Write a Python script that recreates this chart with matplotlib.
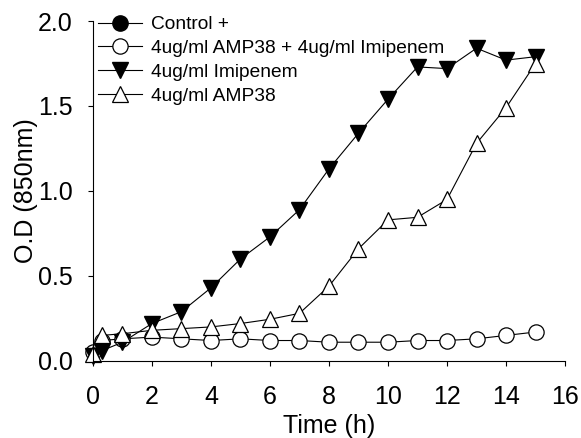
import matplotlib
matplotlib.use("Agg")
import matplotlib.pyplot as plt

plt.rcParams["font.family"] = ["Liberation Sans", "DejaVu Sans"]

# time points (h)
time_h = [0, 0.3, 1, 2, 3, 4, 5, 6, 7, 8, 9, 10, 11, 12, 13, 14, 15]

# O.D readings (850nm)
control_pos = []  # listed in legend, no visible points
amp_imi = [0.05, 0.12, 0.13, 0.14, 0.13, 0.12, 0.13, 0.12, 0.12, 0.11,
           0.11, 0.11, 0.12, 0.12, 0.13, 0.15, 0.17]
imipenem = [0.03, 0.06, 0.11, 0.22, 0.29, 0.43, 0.60, 0.73, 0.89, 1.13,
            1.34, 1.54, 1.73, 1.72, 1.84, 1.77, 1.79]
amp38 = [0.04, 0.15, 0.16, 0.18, 0.19, 0.20, 0.22, 0.245, 0.28, 0.44,
         0.66, 0.83, 0.845, 0.95, 1.28, 1.49, 1.75]

labels = ["Control +", "4ug/ml AMP38 + 4ug/ml Imipenem",
          "4ug/ml Imipenem", "4ug/ml AMP38"]

fig = plt.figure(figsize=(5.81, 4.38), dpi=100)
ax = fig.add_axes([0.160, 0.176, 0.8125, 0.776])

ms = 11
lw = 0.8
ax.plot(time_h[:len(control_pos)], control_pos, "-o", color="black",
        mfc="black", mec="black", ms=ms, lw=lw, label=labels[0])
ax.plot(time_h, amp_imi, "-o", color="black", mfc="white", mec="black",
        ms=ms, lw=lw, mew=0.9, label=labels[1])
ax.plot(time_h, imipenem, "-v", color="black", mfc="black", mec="black",
        ms=ms, lw=lw, label=labels[2])
ax.plot(time_h, amp38, "-^", color="black", mfc="white", mec="black",
        ms=ms, lw=lw, mew=0.9, label=labels[3])

ax.set_xlim(0, 16)
ax.set_ylim(0, 2.0)
ax.set_xticks(range(0, 17, 2))
ax.set_yticks([0.0, 0.5, 1.0, 1.5, 2.0])
ax.set_yticklabels(["0.0", "0.5", "1.0", "1.5", "2.0"])

for side in ["top", "right"]:
    ax.spines[side].set_visible(False)
for side in ["left", "bottom"]:
    ax.spines[side].set_linewidth(0.8)

ax.tick_params(direction="out", length=3.6, width=0.8, labelsize=18)
ax.tick_params(axis="y", pad=11)
ax.tick_params(axis="x", pad=14)

ax.set_xlabel("Time (h)", fontsize=18, labelpad=3.6)
ax.set_ylabel("O.D (850nm)", fontsize=18, labelpad=0)

leg = ax.legend(loc="upper left", bbox_to_anchor=(0.01, 1.015), frameon=False,
                fontsize=13.8, handlelength=2.3, handletextpad=0.5,
                labelspacing=0.33, borderpad=0, borderaxespad=0)

for ln in ax.get_lines():
    ln.set_clip_on(False)

fig.savefig("out.png", dpi=100)
